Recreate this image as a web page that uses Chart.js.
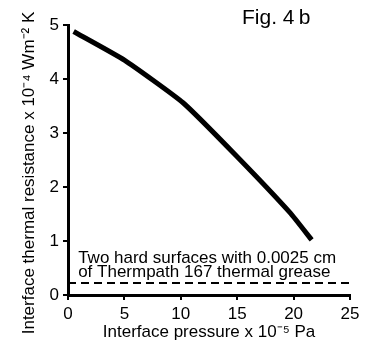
<!DOCTYPE html>
<html>
<head>
<meta charset="utf-8">
<script src="https://cdn.jsdelivr.net/npm/chart.js@4"></script>
<style>
  body { margin: 0; background: #fff; }
  canvas { display: block; }
</style>
</head>
<body>
<canvas id="fig" width="373" height="343"></canvas>
<script>
// values
const pressure = [0.5, 5.0, 10.2, 15.0, 19.7, 21.6];
const resistance = [4.88, 4.35, 3.56, 2.56, 1.52, 1.02];
const greaseX = [0, 25];
const greaseY = [0.22, 0.22];
const noteLines = ['Two hard surfaces with 0.0025 cm', 'of Thermpath 167 thermal grease'];
const noteY = [0.676, 0.417];

const fontFam = '"Liberation Sans", Arial, Helvetica, sans-serif';

function toPoints(xs, ys) {
  return xs.map((x, i) => ({ x: x, y: ys[i] }));
}

// free text: figure label, y title and the grease note
const textPlugin = {
  id: 'texts',
  afterDraw(chart) {
    const ctx = chart.ctx;
    const x = chart.scales.x, y = chart.scales.y;
    ctx.save();
    ctx.fillStyle = '#000';
    ctx.textBaseline = 'middle';
    ctx.textAlign = 'left';
    ctx.font = '21px ' + fontFam;
    ctx.fillText('Fig. 4\u2009b', 242, 18);
    ctx.font = '17px ' + fontFam;
    noteLines.forEach((t, i) => {
      ctx.fillText(t, x.getPixelForValue(0.9), y.getPixelForValue(noteY[i]));
    });
    // y axis title
    ctx.translate(29, 173);
    ctx.rotate(-Math.PI / 2);
    ctx.textAlign = 'center';
    ctx.fillText('Interface thermal resistance x 10\u207B\u2074 Wm\u207B\u00B2 K', 0, 0);
    ctx.restore();
  }
};

new Chart(document.getElementById('fig'), {
  type: 'line',
  data: {
    datasets: [
      {
        data: toPoints(pressure, resistance),
        borderColor: '#000',
        borderWidth: 5,
        pointRadius: 0,
        tension: 0.15,
        borderCapStyle: 'butt'
      },
      {
        data: toPoints(greaseX, greaseY),
        borderColor: '#000',
        borderWidth: 2,
        borderDash: [8, 5],
        pointRadius: 0
      }
    ]
  },
  options: {
    responsive: false,
    devicePixelRatio: 1,
    animation: false,
    layout: { padding: { top: 25, right: 23, left: 0, bottom: 0 } },
    plugins: { legend: { display: false }, tooltip: { enabled: false } },
    scales: {
      x: {
        type: 'linear',
        min: 0, max: 25,
        afterFit: s => { s.height = 48; },
        ticks: { stepSize: 5, color: '#000', padding: 4, font: { family: fontFam, size: 17 } },
        grid: { drawOnChartArea: false, drawTicks: true, tickLength: 5, color: '#000', lineWidth: 2 },
        border: { color: '#000', width: 3 },
        title: {
          display: true,
          text: 'Interface pressure x 10\u207B\u2075 Pa',
          color: '#000',
          font: { family: fontFam, size: 17 },
          padding: { top: 0, bottom: 0 }
        }
      },
      y: {
        min: 0, max: 5,
        afterFit: s => { s.width = 68; },
        ticks: { stepSize: 1, color: '#000', padding: 4, font: { family: fontFam, size: 17 } },
        grid: { drawOnChartArea: false, drawTicks: true, tickLength: 5, color: '#000', lineWidth: 2 },
        border: { color: '#000', width: 3 }
      }
    }
  },
  plugins: [textPlugin]
});
</script>
</body>
</html>
